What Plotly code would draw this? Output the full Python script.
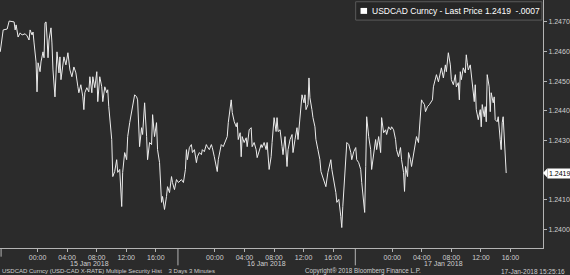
import plotly.graph_objects as go

# hours since 2018-01-15 00:00
hours = [-5.05, -4.65, -4.11, -3.84, -3.17, -3.03, -2.90, -2.76, -2.63, -2.36, -2.09, -1.68, -1.42, -1.15, -1.01, -0.74, -0.61, -0.47, -0.20, -0.07,
         0.07, 0.34, 0.47, 0.74, 0.88, 1.01, 1.15, 1.28, 1.42, 1.55, 1.82, 1.95, 2.09, 2.36, 2.49, 2.63, 2.90, 3.03, 3.17, 3.44, 3.57, 3.84, 4.11, 4.38, 4.65, 4.92, 5.19, 5.46, 5.59, 5.86,
         6.13, 6.27, 6.40, 6.67, 6.94, 7.08, 7.35, 7.48, 7.75, 8.02, 8.15, 8.42, 8.69, 8.83, 9.10, 9.37, 9.50, 9.64, 9.91, 10.04, 10.18, 10.44, 10.71, 10.85, 11.12, 11.39, 11.52, 11.79,
         12.06, 12.20, 12.47, 12.74, 12.87, 13.14, 13.41, 13.54, 13.81, 14.08, 14.22, 14.49, 14.76, 14.89, 15.16, 15.43, 15.57, 15.83, 16.10, 16.24, 16.51, 16.78, 16.91, 17.18, 17.45,
         17.59, 17.86, 18.13, 18.26, 18.53, 18.80, 19.07, 19.47, 19.74, 20.01, 20.15, 20.28, 20.55, 20.82, 20.96, 21.23, 21.50, 21.63, 21.90, 22.17, 22.30, 22.57, 22.84, 22.98, 23.25,
         23.52, 23.65, 23.92, 24.19, 24.32, 24.46, 24.73, 24.86, 25.13, 25.40, 25.67, 25.81, 26.08, 26.21, 26.35, 26.48, 26.62, 26.89, 27.02, 27.16, 27.42, 27.56, 27.69, 27.96, 28.23,
         28.37, 28.64, 28.91, 29.04, 29.31, 29.58, 29.72, 29.99, 30.26, 30.39, 30.66, 30.93, 31.07, 31.34, 31.61, 31.74, 32.01, 32.28, 32.41, 32.55, 32.82, 33.09, 33.22, 33.49, 33.76,
         33.90, 34.17, 34.44, 34.57, 34.84, 35.11, 35.25, 35.52, 35.65, 35.79, 36.06, 36.19, 36.33, 36.60, 36.73, 36.86, 37.13, 37.27, 37.54, 37.67, 37.94, 38.21, 38.35, 38.62, 38.89,
         39.02, 39.29, 39.56, 39.69, 39.83, 40.10, 40.37, 40.50, 40.77, 41.04, 41.17, 41.31, 41.44, 41.71, 41.85, 42.12, 42.39, 42.52, 42.79, 43.06, 43.19, 43.46, 43.73, 43.87, 44.14,
         44.27, 44.41, 44.54, 44.81, 45.08, 45.21, 45.48, 45.75, 45.89, 46.16, 46.43, 46.56, 46.83, 47.10, 47.24, 47.51, 47.78, 47.91, 48.18, 48.45, 48.58, 48.85, 49.12, 49.26, 49.53,
         49.66, 49.80, 50.07, 50.20, 50.47, 50.61, 50.88, 51.15, 51.28, 51.55, 51.82, 51.96, 52.09, 52.36, 52.50, 52.77, 53.03, 53.17, 53.44, 53.57, 53.84, 53.98, 54.25, 54.52, 54.65,
         54.92, 55.19, 55.32, 55.59, 55.86, 56.00, 56.27, 56.54, 56.67, 56.94, 57.08, 57.21, 57.35, 57.61, 57.88, 58.02, 58.15, 58.29, 58.56, 58.69, 58.83, 59.10, 59.23, 59.37, 59.64,
         59.91, 60.04, 60.18, 60.45, 60.58, 60.72, 60.85, 61.12, 61.26, 61.39, 61.66, 61.80, 61.93, 62.20, 62.34, 62.61, 62.74, 62.88, 63.01, 63.42]

price = [1.24599, 1.24673, 1.24676, 1.24703, 1.24700, 1.24673, 1.24690, 1.24656, 1.24649, 1.24663, 1.24656, 1.24660, 1.24653, 1.24639, 1.24673, 1.24656, 1.24666, 1.24629, 1.24565, 1.24464,
         1.24562, 1.24532, 1.24565, 1.24599, 1.24579, 1.24697, 1.24700, 1.24649, 1.24579, 1.24639, 1.24680, 1.24629, 1.24538, 1.24447, 1.24538, 1.24599, 1.24528, 1.24582, 1.24505, 1.24562, 1.24582, 1.24555, 1.24596, 1.24538, 1.24515, 1.24548, 1.24528, 1.24481, 1.24461, 1.24488,
         1.24447, 1.24404, 1.24461, 1.24478, 1.24464, 1.24515, 1.24461, 1.24515, 1.24478, 1.24532, 1.24431, 1.24515, 1.24481, 1.24431, 1.24481, 1.24461, 1.24471, 1.24414, 1.24330, 1.24303, 1.24178, 1.24195, 1.24235, 1.24192, 1.24202, 1.24077, 1.24192, 1.24259,
         1.24235, 1.24313, 1.24360, 1.24404, 1.24414, 1.24454, 1.24447, 1.24437, 1.24279, 1.24343, 1.24320, 1.24427, 1.24313, 1.24235, 1.24293, 1.24286, 1.24387, 1.24313, 1.24360, 1.24269, 1.24225, 1.24091, 1.24111, 1.24067, 1.24111,
         1.24144, 1.24124, 1.24178, 1.24158, 1.24134, 1.24168, 1.24158, 1.24168, 1.24158, 1.24202, 1.24269, 1.24235, 1.24276, 1.24286, 1.24259, 1.24269, 1.24225, 1.24245, 1.24259, 1.24252, 1.24269, 1.24262, 1.24286, 1.24279, 1.24269,
         1.24286, 1.24276, 1.24245, 1.24212, 1.24195, 1.24235, 1.24269, 1.24286, 1.24279, 1.24296, 1.24313, 1.24360, 1.24404, 1.24437, 1.24394, 1.24380, 1.24363, 1.24346, 1.24360, 1.24303, 1.24326, 1.24245, 1.24313, 1.24293, 1.24309,
         1.24279, 1.24336, 1.24343, 1.24279, 1.24293, 1.24269, 1.24242, 1.24269, 1.24286, 1.24276, 1.24293, 1.24269, 1.24293, 1.24202, 1.24245, 1.24293, 1.24377, 1.24330, 1.24377, 1.24330, 1.24336, 1.24279, 1.24252, 1.24313, 1.24212,
         1.24269, 1.24303, 1.24320, 1.24259, 1.24303, 1.24343, 1.24303, 1.24377, 1.24394, 1.24454, 1.24427, 1.24454, 1.24404, 1.24421, 1.24511, 1.24444, 1.24404, 1.24377, 1.24346, 1.24303, 1.24269, 1.24235, 1.24195, 1.24175, 1.24161,
         1.24144, 1.24192, 1.24229, 1.24235, 1.24202, 1.24168, 1.24124, 1.24091, 1.24101, 1.24043, 1.24006, 1.24077, 1.24124, 1.24235, 1.24293, 1.24286, 1.24259, 1.24235, 1.24262, 1.24276, 1.24235, 1.24225, 1.24202, 1.24158, 1.24077,
         1.24057, 1.24212, 1.24380, 1.24313, 1.24269, 1.24202, 1.24259, 1.24303, 1.24269, 1.24313, 1.24259, 1.24377, 1.24326, 1.24336, 1.24320, 1.24346, 1.24336, 1.24346, 1.24336, 1.24303, 1.24269, 1.24245, 1.24276, 1.24235, 1.24192,
         1.24128, 1.24212, 1.24178, 1.24259, 1.24235, 1.24212, 1.24259, 1.24303, 1.24313, 1.24293, 1.24370, 1.24437, 1.24431, 1.24421, 1.24397, 1.24414, 1.24421, 1.24427, 1.24437, 1.24481, 1.24505, 1.24522, 1.24498, 1.24528, 1.24545,
         1.24511, 1.24555, 1.24532, 1.24596, 1.24555, 1.24505, 1.24488, 1.24522, 1.24481, 1.24495, 1.24437, 1.24532, 1.24505, 1.24545, 1.24528, 1.24589, 1.24562, 1.24538, 1.24555, 1.24522, 1.24495, 1.24431, 1.24488, 1.24404, 1.24370,
         1.24404, 1.24346, 1.24421, 1.24380, 1.24414, 1.24363, 1.24522, 1.24481, 1.24397, 1.24461, 1.24427, 1.24447, 1.24370, 1.24363, 1.24380, 1.24303, 1.24269, 1.24360, 1.24380, 1.24190]

tick_hours = [0, 4, 8, 12, 16, 24, 28, 32, 36, 40, 48, 52, 56, 60, 64]
tick_text = ["00:00", "04:00", "08:00", "12:00", "16:00"] * 3
day_labels = ["15 Jan 2018", "16 Jan 2018", "17 Jan 2018"]
day_centers = [7, 31, 55]
separators = [19, 43]
y_ticks = [1.2400, 1.2410, 1.2420, 1.2430, 1.2440, 1.2450, 1.2460, 1.2470]
y_tick_text = ["1.2400", "1.2410", "1.2420", "1.2430", "1.2440", "1.2450", "1.2460", "1.2470"]
last_price = 1.2419
legend_text = "USDCAD Curncy - Last Price 1.2419\u00a0\u00a0-.0007"
footer_left = "USDCAD Curncy (USD-CAD X-RATE) Multiple Security Hist\u00a0\u00a0\u00a0\u00a03 Days 3 Minutes"
footer_mid = "Copyright\u00ae 2018 Bloomberg Finance L.P."
footer_right = "17-Jan-2018 15:25:16"

BG = "#2b2b2b"
AX = "#b4b4b4"
TXT = "#cfcfcf"
FONT = "Liberation Sans, Arial, sans-serif"

fig = go.Figure()
fig.add_trace(go.Scatter(x=hours, y=price, mode="lines",
                         line=dict(color="#ececec", width=1), hoverinfo="skip"))

# 1.2420 label is hidden behind the last-price tag in the original
shown_y = [v for v in y_ticks if abs(v - 1.2420) > 1e-9]
shown_y_text = [t for v, t in zip(y_ticks, y_tick_text) if abs(v - 1.2420) > 1e-9]

fig.update_layout(
    width=570, height=275,
    margin=dict(l=0, r=25, t=0, b=27),
    paper_bgcolor=BG, plot_bgcolor=BG,
    showlegend=False,
    font=dict(family=FONT, size=7, color=TXT),
    xaxis=dict(range=[-5.08, 68.4], showgrid=False, zeroline=False,
               tickvals=tick_hours, ticktext=tick_text,
               ticks="outside", ticklen=3, tickcolor=AX, tickwidth=1,
               showline=True, linecolor=AX, linewidth=1,
               tickfont=dict(size=7, color=TXT, family=FONT)),
    yaxis=dict(range=[1.23937, 1.24774], side="right", showgrid=False, zeroline=False,
               tickvals=shown_y, ticktext=shown_y_text,
               ticks="outside", ticklen=3, tickcolor=AX, tickwidth=1,
               showline=True, linecolor=AX, linewidth=1,
               tickfont=dict(size=7, color=TXT, family=FONT)),
)

shapes = []
for s in separators:
    shapes.append(dict(type="line", xref="x", yref="paper", x0=s, x1=s, y0=0, y1=-0.07,
                       line=dict(color=AX, width=1)))
shapes.append(dict(type="line", xref="paper", yref="paper", x0=0.002, x1=0.002, y0=0, y1=-0.035,
                   line=dict(color=AX, width=1)))
# legend box
shapes.append(dict(type="rect", xref="paper", yref="paper", x0=0.655, x1=0.998, y0=0.919, y1=0.993,
                   line=dict(color="#5a5a5a", width=1), fillcolor="#262626"))
shapes.append(dict(type="rect", xref="paper", yref="paper", x0=0.664, x1=0.676, y0=0.944, y1=0.968,
                   line=dict(width=0), fillcolor="#ffffff"))
# last price pointer
shapes.append(dict(type="path", xref="paper", yref="y",
                   path=f"M 1.0,{last_price} L 1.008,{last_price + 0.00016} L 1.008,{last_price - 0.00016} Z",
                   fillcolor="#ffffff", line=dict(width=0)))
fig.update_layout(shapes=shapes)

ann = []
for c, t in zip(day_centers, day_labels):
    ann.append(dict(x=c, y=-0.062, xref="x", yref="paper", text=t, showarrow=False,
                    xanchor="center", yanchor="middle", font=dict(size=7, color=TXT)))
ann.append(dict(x=0.0, y=-0.093, xref="paper", yref="paper", text=footer_left, showarrow=False,
                xanchor="left", yanchor="middle", font=dict(size=6, color=TXT)))
ann.append(dict(x=0.558, y=-0.093, xref="paper", yref="paper", text=footer_mid, showarrow=False,
                xanchor="left", yanchor="middle", font=dict(size=6.3, color=TXT)))
ann.append(dict(x=1.045, y=-0.093, xref="paper", yref="paper", text=footer_right, showarrow=False,
                xanchor="right", yanchor="middle", font=dict(size=6.5, color=TXT)))
ann.append(dict(x=0.681, y=0.956, xref="paper", yref="paper", text=legend_text, showarrow=False,
                xanchor="left", yanchor="middle", font=dict(size=8.5, color="#ffffff")))
ann.append(dict(x=1.008, y=last_price, xref="paper", yref="y", text="1.2419", showarrow=False,
                xanchor="left", yanchor="middle", bgcolor="#ffffff", borderpad=1,
                font=dict(size=7, color="#000000")))
fig.update_layout(annotations=ann)

fig.write_html("out.html", config={"displayModeBar": False})
